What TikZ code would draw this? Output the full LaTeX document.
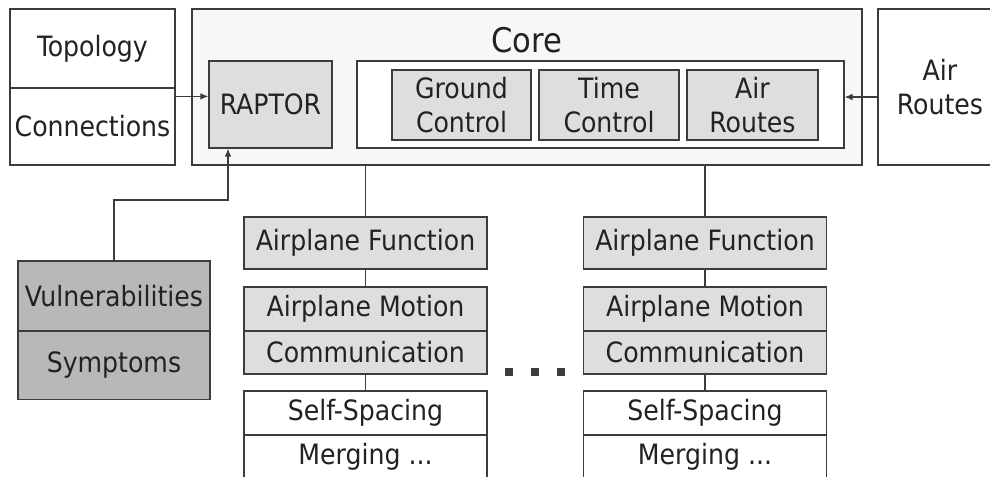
\documentclass[tikz,border=0pt]{standalone}
\usepackage{fontspec}
\setmainfont{DejaVu Sans Condensed}
\usetikzlibrary{
    arrows.meta,
    calc,
    positioning
}
\definecolor{linegray}{HTML}{3C3C3C}
\definecolor{textgray}{HTML}{222222}
\definecolor{corefill}{HTML}{F7F7F7}
\definecolor{lightfill}{HTML}{DEDEDE}
\definecolor{darkfill}{HTML}{B8B8B8}
\tikzset{
    blk/.style={draw=linegray, line width=0.9pt, text=textgray, inner sep=0pt,
        align=center, font=\fontsize{21}{25.5}\selectfont, fill=white},
    gblk/.style={blk, fill=lightfill},
    dblk/.style={blk, fill=darkfill},
    link/.style={draw=linegray, line width=0.9pt},
    feed/.style={link, -{Latex[length=6pt, width=5pt]}}
}

\begin{document}
\begin{tikzpicture}[x=0.75pt, y=-0.75pt]
                                \clip (0, 0) rectangle (990, 476);
                                % inputs on the left and right
                                \node[blk, minimum width=123.75pt, minimum height=59.25pt] (topo) at (92.5, 48.5) {Topology};
                                \node[blk, minimum width=123.75pt, minimum height=57.75pt] (conn) at (92.5, 126.5) {Connections};
                                \node[blk, minimum width=93pt, minimum height=117pt] (routesin) at (940, 87) {Air\\Routes};
                                % core
                                \node[blk, fill=corefill, minimum width=502.5pt, minimum height=117pt] (core) at (527, 87) {};
                                \node[text=textgray, font=\fontsize{25.5}{28}\selectfont] (corelbl) at (527, 40) {Core};
                                \node[gblk, minimum width=92.25pt, minimum height=65.25pt] (raptor) at (270.5, 104.5) {RAPTOR};
                                \node[blk, minimum width=365.25pt, minimum height=65.25pt] (ctrl) at (600.5, 104.5) {};
                                \node[gblk, minimum width=104.25pt, minimum height=52.5pt] (ground) at (461.5, 105) {Ground\\Control};
                                \node[gblk, minimum width=105pt, minimum height=52.5pt] (time) at (609, 105) {Time\\Control};
                                \node[gblk, minimum width=98.25pt, minimum height=52.5pt] (routes) at (752.5, 105) {Air\\Routes};
                                % faults
                                \node[dblk, minimum width=144pt, minimum height=52.5pt] (vuln) at (114, 296) {Vulnerabilities};
                                \node[dblk, minimum width=144pt, minimum height=51pt] (sympt) at (114, 365.5) {Symptoms};
                                % airplane stacks
                                \foreach \s/\x in {a/365.5, b/705} {
                                    \node[gblk, minimum width=182.25pt, minimum height=39pt] (func\s) at (\x, 243) {Airplane Function};
                                    \node[gblk, minimum width=182.25pt, minimum height=33pt] (motion\s) at (\x, 309) {Airplane Motion};
                                    \node[gblk, minimum width=182.25pt, minimum height=32.25pt] (comm\s) at (\x, 352.5) {Communication};
                                    \node[blk, minimum width=182.25pt, minimum height=33pt] (space\s) at (\x, 413) {Self-Spacing};
                                    \node[blk, minimum width=182.25pt, minimum height=33pt] (merge\s) at (\x, 457) {Merging ...};
                                    \draw[link] (func\s.north |- core.south) -- (func\s.north);
                                    \draw[link] (func\s.south) -- (motion\s.north);
                                    \draw[link] (comm\s.south) -- (space\s.north);
                                }
                                \foreach \d/\x in {1/509, 2/535, 3/561}
                                    \node[fill=linegray, minimum size=6pt, inner sep=0pt] (dot\d) at (\x, 372) {};
                                % arrows
                                \draw[feed] ($(conn.north east)+(0, 9)$) -- (raptor.west |- {$(conn.north east)+(0, 9)$});
                                \draw[feed] (routesin.west |- {$(ctrl.east)+(0, -7.5)$}) -- ($(ctrl.east)+(0, -7.5)$);
                                \coordinate (vbend) at (228, 200);
                                \draw[feed] (vuln.north) |- (vbend) -- (vbend |- raptor.south);
                            \end{tikzpicture}
\end{document}
